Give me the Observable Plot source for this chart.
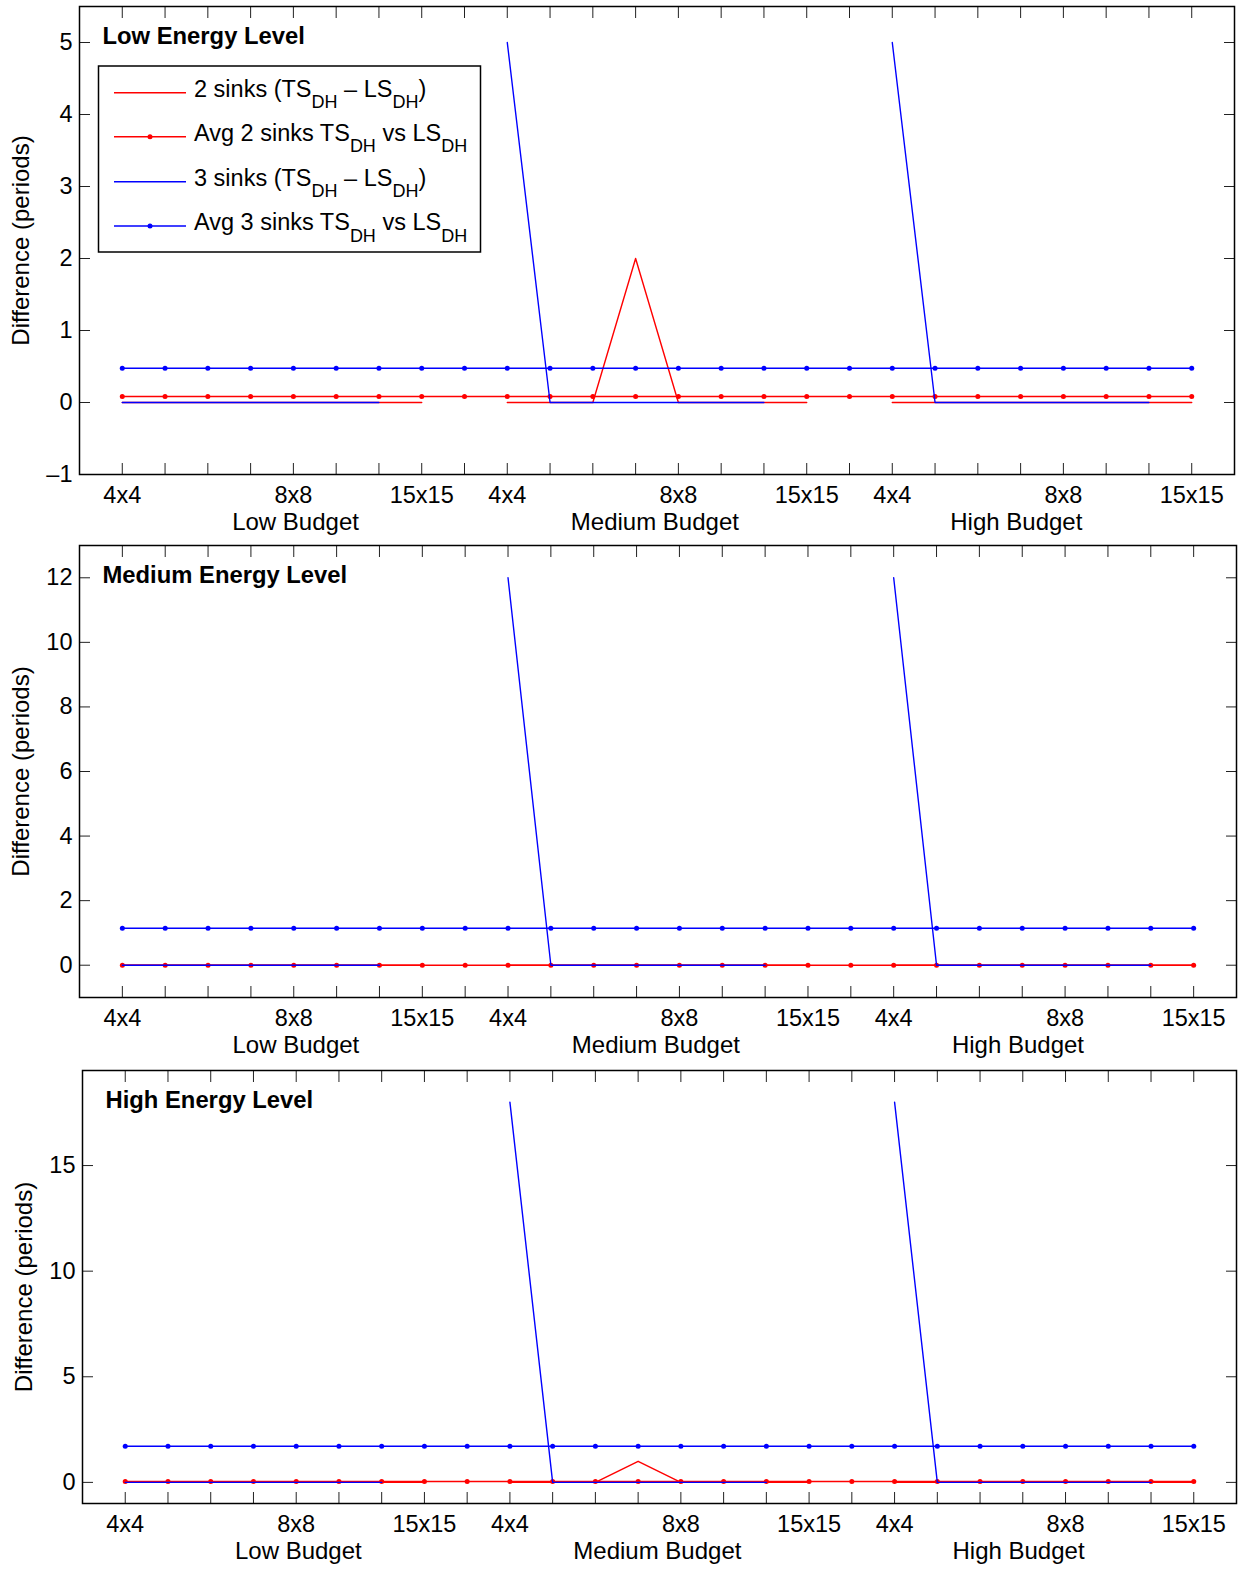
<!DOCTYPE html>
<html><head><meta charset="utf-8">
<script src="https://cdn.jsdelivr.net/npm/d3@7"></script>
<script src="https://cdn.jsdelivr.net/npm/@observablehq/plot@0.6"></script>
<style>
body{margin:0;background:#fff;}
#chart{width:1254px;}
#chart svg{display:block;}
</style></head><body><div id="chart"></div>
<script>
// ---- data ----
const positions = [1,2,3,4,5,6,7,8,9,10,11,12,13,14,15,16,17,18,19,20,21,22,23,24,25,26];
const tickLabelPos = [1,5,8,10,14,17,19,23,26];
const tickLabelText = ["4x4","8x8","15x15","4x4","8x8","15x15","4x4","8x8","15x15"];
const budgetPos = [5.05, 13.45, 21.9];
const budgetNames = ["Low Budget","Medium Budget","High Budget"];
const panelTitles = ["Low Energy Level","Medium Energy Level","High Energy Level"];

// 2 sinks (TS_DH - LS_DH), per energy level
const sinks2Low  = [0,0,0,0,0,0,0,0,null,0,0,0,2,0,0,0,0,null,0,0,0,0,0,0,0,0];
const sinks2Med  = [0,0,0,0,0,0,0,0,null,0,0,0,0,0,0,0,0,null,0,0,0,0,0,0,0,0];
const sinks2High = [0,0,0,0,0,0,0,0,null,0,0,0,1,0,0,0,0,null,0,0,0,0,0,0,0,0];
// 3 sinks (TS_DH - LS_DH)
const sinks3Low  = [0,0,0,0,0,0,0,null,null,5,0,0,0,0,0,0,null,null,5,0,0,0,0,0,0,null];
const sinks3Med  = [0,0,0,0,0,0,0,null,null,12,0,0,0,0,0,0,null,null,12,0,0,0,0,0,0,null];
const sinks3High = [0,0,0,0,0,0,0,null,null,18,0,0,0,0,0,0,null,null,18,0,0,0,0,0,0,null];
// averages
const avg2 = [0.083, 0, 0.042];
const avg3 = [0.476, 1.143, 1.714];

const yDomains = [[-1,5.5],[-1,13],[-1,19.5]];
const yTicks = [[-1,0,1,2,3,4,5],[0,2,4,6,8,10,12],[0,5,10,15]];

const seriesColors = ["#ff0000","#0000ff"];
const legendLabels = ["2 sinks (TS_DH – LS_DH)","Avg 2 sinks TS_DH vs LS_DH","3 sinks (TS_DH – LS_DH)","Avg 3 sinks TS_DH vs LS_DH"];
const legendColors = ["#ff0000","#ff0000","#0000ff","#0000ff"];
const legendDots = [false,true,false,true];

// ---- layout ----
const layouts = [
  {height:540, marginTop:6, marginBottom:66, marginLeft:79, marginRight:20},
  {height:525, marginTop:5, marginBottom:68, marginLeft:79, marginRight:18},
  {height:514, marginTop:5, marginBottom:76, marginLeft:82, marginRight:18}
];
const FONT = "'Liberation Sans', Arial, Helvetica, sans-serif";
const s2 = [sinks2Low, sinks2Med, sinks2High];
const s3 = [sinks3Low, sinks3Med, sinks3High];
const fmtY = d => d < 0 ? "\u2013" + (-d) : String(d);

const chart = document.getElementById("chart");

for (let p = 0; p < 3; p++) {
  const rows = positions.map((x, i) => ({x, s2: s2[p][i], s3: s3[p][i], a2: avg2[p], a3: avg3[p]}));
  const L = layouts[p];
  const svg = Plot.plot({
    width: 1254,
    height: L.height,
    marginTop: L.marginTop, marginBottom: L.marginBottom,
    marginLeft: L.marginLeft, marginRight: L.marginRight,
    style: {fontFamily: FONT, fontSize: "23px", background: "white", color: "black"},
    x: {domain: [0, 27]},
    y: {domain: yDomains[p]},
    marks: [
      Plot.line(rows, {x: "x", y: "s2", stroke: seriesColors[0], strokeWidth: 1.4}),
      Plot.line(rows, {x: "x", y: "a2", stroke: seriesColors[0], strokeWidth: 1.4}),
      Plot.dot(rows, {x: "x", y: "a2", fill: seriesColors[0], r: 2.5}),
      Plot.line(rows, {x: "x", y: "s3", stroke: seriesColors[1], strokeWidth: 1.4}),
      Plot.line(rows, {x: "x", y: "a3", stroke: seriesColors[1], strokeWidth: 1.4}),
      Plot.dot(rows, {x: "x", y: "a3", fill: seriesColors[1], r: 2.5}),
      Plot.axisX({anchor: "bottom", ticks: positions, tickSize: -11, tickFormat: () => "", label: null, stroke: "#222"}),
      Plot.axisX({anchor: "top", ticks: positions, tickSize: -11, tickFormat: () => "", label: null, stroke: "#222"}),
      Plot.axisX({anchor: "bottom", ticks: tickLabelPos, tickSize: 0, tickPadding: 12, label: null,
        tickFormat: d => tickLabelText[tickLabelPos.indexOf(d)], fontSize: 23.5}),
      Plot.axisY({anchor: "left", ticks: yTicks[p], tickSize: -11, tickFormat: () => "", label: null, stroke: "#222"}),
      Plot.axisY({anchor: "right", ticks: yTicks[p], tickSize: -11, tickFormat: () => "", label: null, stroke: "#222"}),
      Plot.axisY({anchor: "left", ticks: yTicks[p], tickSize: 0, tickPadding: 7, label: null, fontSize: 23.5, tickFormat: fmtY}),
      Plot.frame({stroke: "black", strokeWidth: 1.5}),
      Plot.text([panelTitles[p]], {frameAnchor: "top-left", dx: 23, dy: 30, textAnchor: "start", lineAnchor: "middle", fontWeight: "bold", fontSize: 23.8}),
      Plot.text(budgetNames, {x: (d, i) => budgetPos[i], frameAnchor: "bottom", dy: 38, lineAnchor: "top", fontSize: 24}),
      Plot.text(["Difference (periods)"], {frameAnchor: "left", dx: -58, rotate: -90, textAnchor: "middle", lineAnchor: "middle", fontSize: 24})
    ]
  });

  if (p === 0) {
    const g = d3.select(svg).append("g").attr("class", "legend");
    g.append("rect").attr("x", 98.5).attr("y", 66).attr("width", 382).attr("height", 186)
      .attr("fill", "white").attr("stroke", "black").attr("stroke-width", 1.5);
    const rowY = [92.7, 136.7, 181.7, 226];
    legendLabels.forEach((lab, i) => {
      const y = rowY[i];
      g.append("line").attr("x1", 114).attr("x2", 186).attr("y1", y).attr("y2", y)
        .attr("stroke", legendColors[i]).attr("stroke-width", 1.4);
      if (legendDots[i]) g.append("circle").attr("cx", 150).attr("cy", y).attr("r", 2.5).attr("fill", legendColors[i]);
      const t = g.append("text").attr("x", 194).attr("y", y + 4)
        .attr("text-anchor", "start")
        .attr("font-family", FONT).attr("font-size", 24).attr("fill", "black");
      const parts = lab.split("_DH");
      parts.forEach((part, k) => {
        t.append("tspan").attr("dy", k === 0 ? 0 : -11.6).attr("font-size", 23.5).text(part);
        if (k < parts.length - 1) t.append("tspan").attr("dy", 11.6).attr("font-size", 18).text("DH");
      });
    });
  }
  chart.appendChild(svg);
}
</script>
</body></html>
